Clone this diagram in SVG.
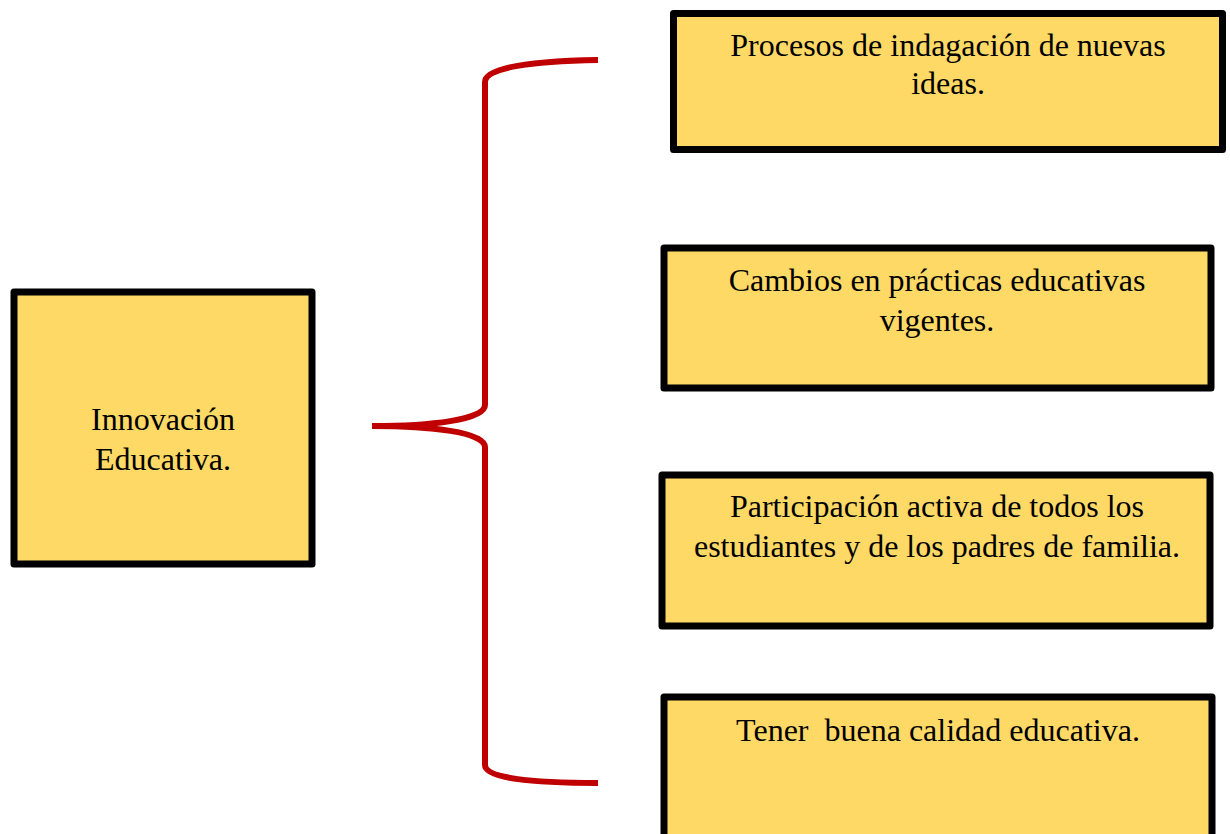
<svg xmlns="http://www.w3.org/2000/svg" width="1230" height="834" viewBox="0 0 1230 834">
<style>
.box{fill:#FED966;stroke:#000;stroke-width:7;stroke-linejoin:round}
.t{font-family:"Liberation Serif","Times New Roman",serif;font-size:32px;fill:#000;text-anchor:middle}
.brace{fill:none;stroke:#C00000;stroke-width:6;stroke-linecap:butt}
</style>
<rect width="1230" height="834" fill="#fff"/>
<g id="connectors">
<path class="brace" d="M598,60 C530,61 485,68 485,82 L485,405 C485,420 430,426 372,426"/>
<path class="brace" d="M372,426 C430,426 485,432 485,447 L485,765 C485,778 530,783 598,783"/>
</g>
<g id="root">
<rect class="box" x="14" y="292" width="298" height="272"/>
<text class="t" x="163" y="430">Innovación</text>
<text class="t" x="163" y="470">Educativa.</text>
</g>
<g id="n1">
<rect class="box" x="673.5" y="13.5" width="549" height="136"/>
<text class="t" x="948" y="56">Procesos de indagación de nuevas</text>
<text class="t" x="948" y="94">ideas.</text>
</g>
<g id="n2">
<rect class="box" x="664" y="248" width="547" height="140"/>
<text class="t" x="937" y="291">Cambios en prácticas educativas</text>
<text class="t" x="937" y="331">vigentes.</text>
</g>
<g id="n3">
<rect class="box" x="662" y="475" width="548" height="151"/>
<text class="t" x="937" y="517">Participación activa de todos los</text>
<text class="t" x="937" y="557">estudiantes y de los padres de familia.</text>
</g>
<g id="n4">
<rect class="box" x="664" y="697" width="548" height="145"/>
<text class="t" x="938" y="741" xml:space="preserve">Tener  buena calidad educativa.</text>
</g>
</svg>
